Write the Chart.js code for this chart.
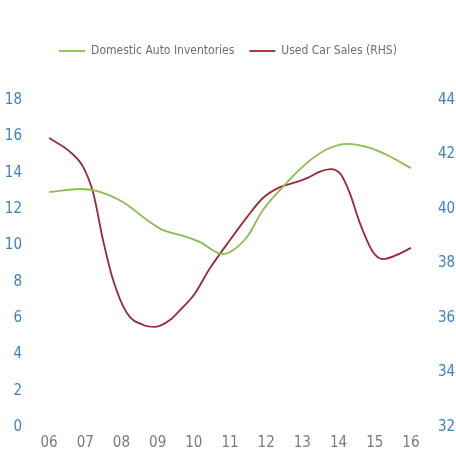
<!DOCTYPE html>
<html>
<head>
<meta charset="utf-8">
<script src="https://cdn.jsdelivr.net/npm/chart.js@4/dist/chart.umd.min.js"></script>
<style>
  html, body { margin: 0; padding: 0; background: #ffffff; }
  #wrap { width: 456px; height: 450px; }
</style>
</head>
<body>
<div id="wrap"><canvas id="c" width="456" height="450"></canvas></div>
<script>
// Tick labels for the x axis (years)
const yearTicks = [6, 7, 8, 9, 10, 11, 12, 13, 14, 15, 16];
const yearLabels = ['06', '07', '08', '09', '10', '11', '12', '13', '14', '15', '16'];

// Domestic Auto Inventories (left axis)
const invYears = [6.0, 6.86, 7.33, 8.04, 8.71, 9.15, 9.62, 10.17, 10.8, 11.0, 11.47, 11.91, 12.38, 12.85, 13.29, 13.76, 14.23, 14.87, 15.34, 16.0];
const invValues = [12.82, 12.99, 12.88, 12.28, 11.28, 10.73, 10.46, 10.07, 9.41, 9.52, 10.35, 11.83, 12.93, 13.92, 14.69, 15.25, 15.48, 15.25, 14.86, 14.14];

// Used Car Sales (right axis)
const salesYears = [6.0, 6.58, 6.94, 7.22, 7.49, 7.77, 8.15, 8.6, 8.93, 9.34, 9.62, 10.0, 10.45, 11.0, 11.47, 11.91, 12.38, 12.85, 13.13, 13.49, 13.78, 14.06, 14.31, 14.59, 14.95, 15.23, 15.61, 16.0];
const salesValues = [42.53, 42.02, 41.47, 40.51, 38.79, 37.32, 36.11, 35.67, 35.6, 35.85, 36.22, 36.77, 37.76, 38.79, 39.63, 40.33, 40.73, 40.92, 41.06, 41.3, 41.39, 41.2, 40.51, 39.41, 38.35, 38.09, 38.24, 38.5];

const seriesNames = ['Domestic Auto Inventories', 'Used Car Sales (RHS)'];

const FONT = "'Liberation Sans Narrow', 'DejaVu Sans Condensed', sans-serif";
const GREEN = '#8cbc4e';
const RED = '#9b2a36';
const BLUE = '#3f80c4';
const GREY = '#7a7a7a';

const toPts = (xs, ys) => xs.map((x, i) => ({ x: x, y: ys[i] }));

const legendHeight = {
  id: 'legendHeight',
  beforeInit(chart) {
    const orig = chart.legend.fit;
    chart.legend.fit = function () {
      orig.bind(chart.legend)();
      this.height = 68;
    };
  }
};

new Chart(document.getElementById('c'), {
  type: 'line',
  data: {
    datasets: [
      {
        label: seriesNames[0],
        data: toPts(invYears, invValues),
        borderColor: GREEN,
        backgroundColor: GREEN,
        borderWidth: 1.8,
        pointRadius: 0,
        cubicInterpolationMode: 'monotone',
        yAxisID: 'yL'
      },
      {
        label: seriesNames[1],
        data: toPts(salesYears, salesValues),
        borderColor: RED,
        backgroundColor: RED,
        borderWidth: 1.8,
        pointRadius: 0,
        cubicInterpolationMode: 'monotone',
        yAxisID: 'yR'
      }
    ]
  },
  options: {
    responsive: false,
    animation: false,
    layout: { padding: { top: 30, left: 0, right: 0, bottom: 0 } },
    plugins: {
      legend: {
        position: 'top',
        labels: {
          usePointStyle: true,
          pointStyle: 'line',
          pointStyleWidth: 26,
          color: '#6e6e6e',
          padding: 15,
          font: { family: FONT, size: 12 }
        }
      },
      tooltip: { enabled: false }
    },
    scales: {
      x: {
        type: 'linear',
        min: 5.5,
        max: 16.5,
        grid: { display: false, drawTicks: false },
        border: { display: false },
        afterBuildTicks(scale) {
          scale.ticks = yearTicks.map(v => ({ value: v }));
        },
        afterFit(scale) { scale.height = 25; },
        ticks: {
          color: GREY,
          padding: 9,
          font: { family: FONT, size: 15 },
          callback: (v) => {
            const i = yearTicks.indexOf(v);
            return i >= 0 ? yearLabels[i] : '';
          }
        }
      },
      yL: {
        position: 'left',
        min: 0,
        max: 18,
        grid: { display: false, drawTicks: false },
        border: { display: false },
        afterFit(scale) { scale.width = 31; },
        ticks: {
          stepSize: 2,
          color: BLUE,
          padding: 9,
          labelOffset: 2,
          font: { family: FONT, size: 15 }
        }
      },
      yR: {
        position: 'right',
        min: 32,
        max: 44,
        grid: { display: false, drawTicks: false },
        border: { display: false },
        afterFit(scale) { scale.width = 27; },
        ticks: {
          stepSize: 2,
          color: BLUE,
          padding: 9,
          labelOffset: 2,
          font: { family: FONT, size: 15 }
        }
      }
    }
  },
  plugins: [legendHeight]
});
</script>
</body>
</html>
